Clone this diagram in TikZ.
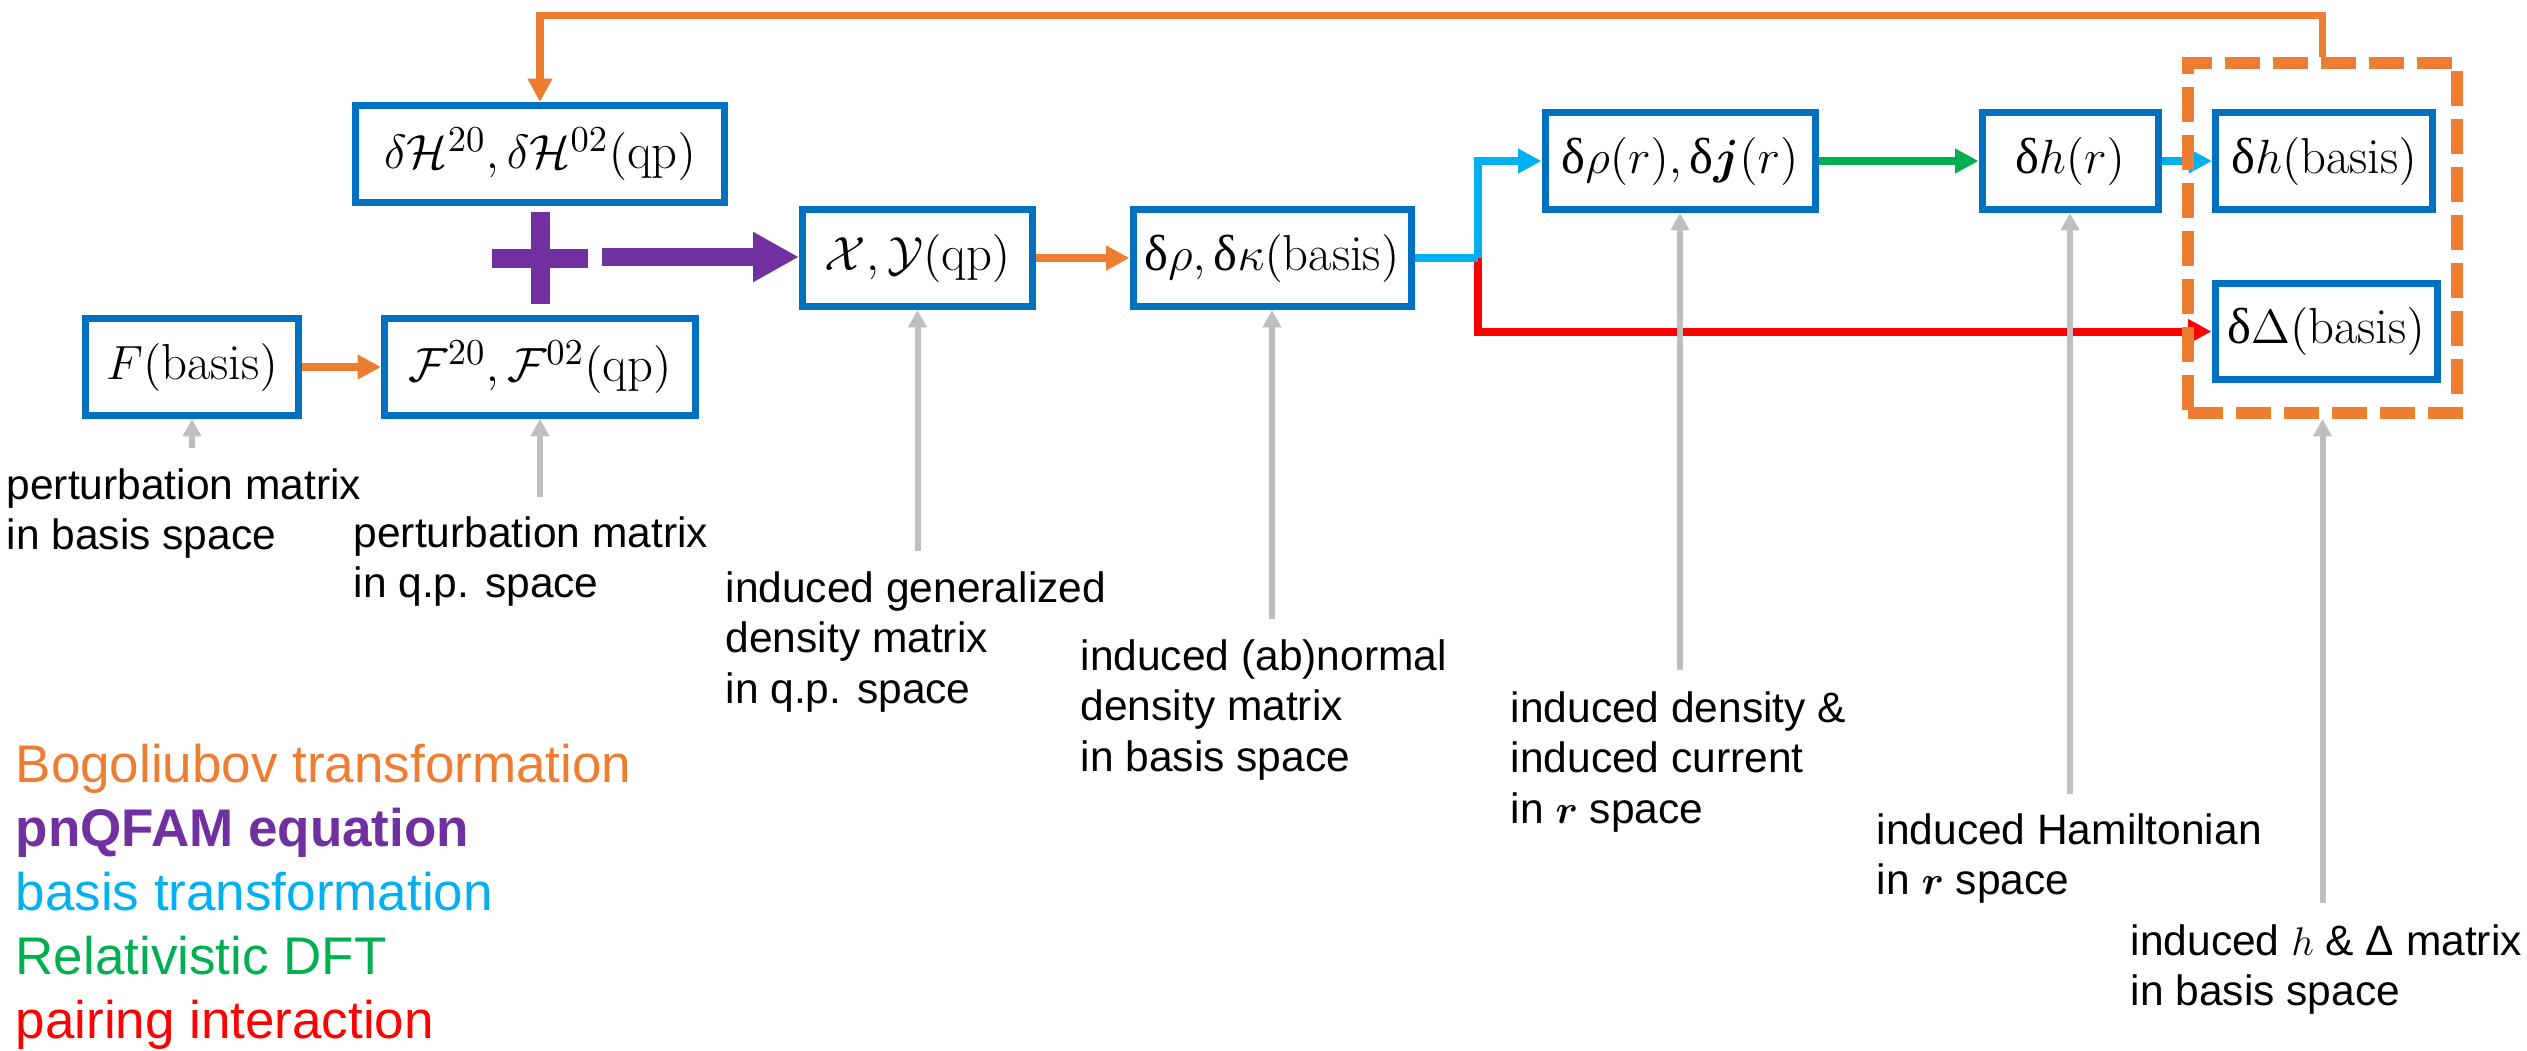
\documentclass[tikz,border=0pt]{standalone}
\usepackage{amsmath,bm}
\usepackage{fontspec}
\newfontfamily\labfont{Liberation Sans}
\newfontfamily\grkfont{Liberation Serif}
\newcommand{\updel}{\mbox{\grkfont δ}}
\usetikzlibrary{arrows.meta}
\definecolor{boxblue}{HTML}{0070C0}
\definecolor{borange}{HTML}{ED7D31}
\definecolor{bpurple}{HTML}{7030A0}
\definecolor{bcyan}{HTML}{00B0F0}
\definecolor{bgreen}{HTML}{00B050}
\definecolor{bred}{HTML}{FF0000}
\definecolor{bgray}{HTML}{BFBFBF}
\begin{document}
\begin{tikzpicture}[x=0.3pt,y=-0.3pt,
  mbox/.style={draw=boxblue, line width=2.1pt, fill=white, minimum height=29.1pt, inner sep=0pt,
    font=\fontsize{15.2pt}{18pt}\selectfont},
  oarrow/.style={draw=borange, line width=2.2pt, -{Triangle[length=7pt,width=7pt]}},
  carrow/.style={draw=bcyan, line width=2.4pt, -{Triangle[length=7pt,width=7pt]}},
  rarrow/.style={draw=bred, line width=2.4pt, -{Triangle[length=7pt,width=7pt]}},
  garrow/.style={draw=bgreen, line width=2.4pt, -{Triangle[length=7pt,width=7pt]}},
  parrow/.style={draw=bpurple, line width=5.4pt, -{Triangle[length=13.8pt,width=14.1pt]}},
  plusbar/.style={draw=bpurple, line width=5.7pt},
  grayarrow/.style={draw=bgray, line width=1.8pt, -{Triangle[length=5.2pt,width=5.4pt]}},
  dashbox/.style={draw=borange, line width=3.6pt, dash pattern=on 10.5pt off 3.9pt,
    minimum width=80.7pt, minimum height=105pt, inner sep=0pt},
  lab/.style={anchor=base west, inner sep=0pt, font=\labfont\fontsize{12.75pt}{15.15pt}\selectfont},
  legend/.style={anchor=base west, inner sep=0pt, font=\labfont\fontsize{15.9pt}{19pt}\selectfont}]
\useasboundingbox (0,0) rectangle (2527,1050);

% boxes
\node[mbox, minimum width=63.9pt]  (F)   at (192,367)  {$F(\mathrm{basis})$};
\node[mbox, minimum width=93.3pt]  (F20) at (540,367)  {$\mathcal{F}^{20},\mathcal{F}^{02}(\mathrm{qp})$};
\node[mbox, minimum width=110.7pt] (dH)  at (540,154)  {$\delta\mathcal{H}^{20},\delta\mathcal{H}^{02}(\mathrm{qp})$};
\node[mbox, minimum width=69pt]    (XY)  at (917.5,258) {$\mathcal{X},\mathcal{Y}(\mathrm{qp})$};
\node[mbox, minimum width=83.4pt]  (dk)  at (1272,258) {$\updel\rho,\updel\kappa(\mathrm{basis})$};
\node[mbox, minimum width=81pt]    (drj) at (1680,161) {$\updel\rho(r),\updel\bm{j}(r)$};
\node[mbox, minimum width=52.8pt]  (dhr) at (2070,161) {$\updel h(r)$};
\node[mbox, minimum width=65.1pt]  (dhb) at (2324,161) {$\updel h(\mathrm{basis})$};
\node[mbox, minimum width=66.6pt, minimum height=28.8pt] (dD) at (2326,331.5) {$\updel\Delta(\mathrm{basis})$};

% coordinates
\coordinate (plus) at (540,258);
\coordinate (pstart) at (602,257);
\coordinate (split) at (1478,258);
\coordinate (topy) at (0,15.5);

% connectors
\draw[oarrow] (F.east) -- (F20.west);
\draw[plusbar] (540,212) -- (540,304);
\draw[plusbar] (492,258) -- (588,258);
\draw[parrow] (pstart) -- (pstart -| XY.west);
\draw[oarrow] (XY.east) -- (dk.west);
\draw[rarrow] (split) |- (dD.west);
\draw[draw=bcyan, line width=2.4pt] (dk.east) -- (split);
\draw[carrow] (split) |- (drj.west);
\draw[garrow] (drj.east) -- (dhr.west);
\draw[carrow] (dhr.east) -- (dhb.west);

% dashed group
\node[dashbox] (dbox) at (2322.5,238) {};
\draw[oarrow] (dbox.north) |- (topy -| dH.north) -- (dH.north);

% gray pointers
\coordinate (gF) at (192,448);
\coordinate (gF20) at (540,497);
\coordinate (gXY) at (917.5,551);
\coordinate (gdk) at (1272,619);
\coordinate (gdrj) at (1680,670);
\coordinate (gdhr) at (2070,794);
\coordinate (gdbox) at (2322.5,903);
\draw[grayarrow] (gF) -- (F.south);
\draw[grayarrow] (gF20) -- (F20.south);
\draw[grayarrow] (gXY) -- (XY.south);
\draw[grayarrow] (gdk) -- (dk.south);
\draw[grayarrow] (gdrj) -- (drj.south);
\draw[grayarrow] (gdhr) -- (dhr.south);
\draw[grayarrow] (gdbox) -- (dbox.south);

% labels
\node[lab] (l1) at (6,499) {\begin{tabular}[t]{@{}l@{}}perturbation matrix\\in basis space\end{tabular}};
\node[lab] (l2) at (353,547) {\begin{tabular}[t]{@{}l@{}}perturbation matrix\\in q.p. space\end{tabular}};
\node[lab] (l3) at (725,602) {\begin{tabular}[t]{@{}l@{}}induced generalized\\density matrix\\in q.p. space\end{tabular}};
\node[lab] (l4) at (1080,670) {\begin{tabular}[t]{@{}l@{}}induced (ab)normal\\density matrix\\in basis space\end{tabular}};
\node[lab] (l5) at (1510,722) {\begin{tabular}[t]{@{}l@{}}induced density \&\\induced current\\in $\bm{r}$ space\end{tabular}};
\node[lab] (l6) at (1876,844) {\begin{tabular}[t]{@{}l@{}}induced Hamiltonian\\in $\bm{r}$ space\end{tabular}};
\node[lab] (l7) at (2130,955) {\begin{tabular}[t]{@{}l@{}}induced $h$ \& Δ matrix\\in basis space\end{tabular}};

% legend
\node[legend, text=borange] (lg1) at (15,782) {Bogoliubov transformation};
\node[legend, text=bpurple, font=\labfont\bfseries\fontsize{15.9pt}{19pt}\selectfont] (lg2) at (15,846) {pnQFAM equation};
\node[legend, text=bcyan] (lg3) at (15,910) {basis transformation};
\node[legend, text=bgreen] (lg4) at (15,974) {Relativistic DFT};
\node[legend, text=bred] (lg5) at (15,1038) {pairing interaction};
\end{tikzpicture}
\end{document}
